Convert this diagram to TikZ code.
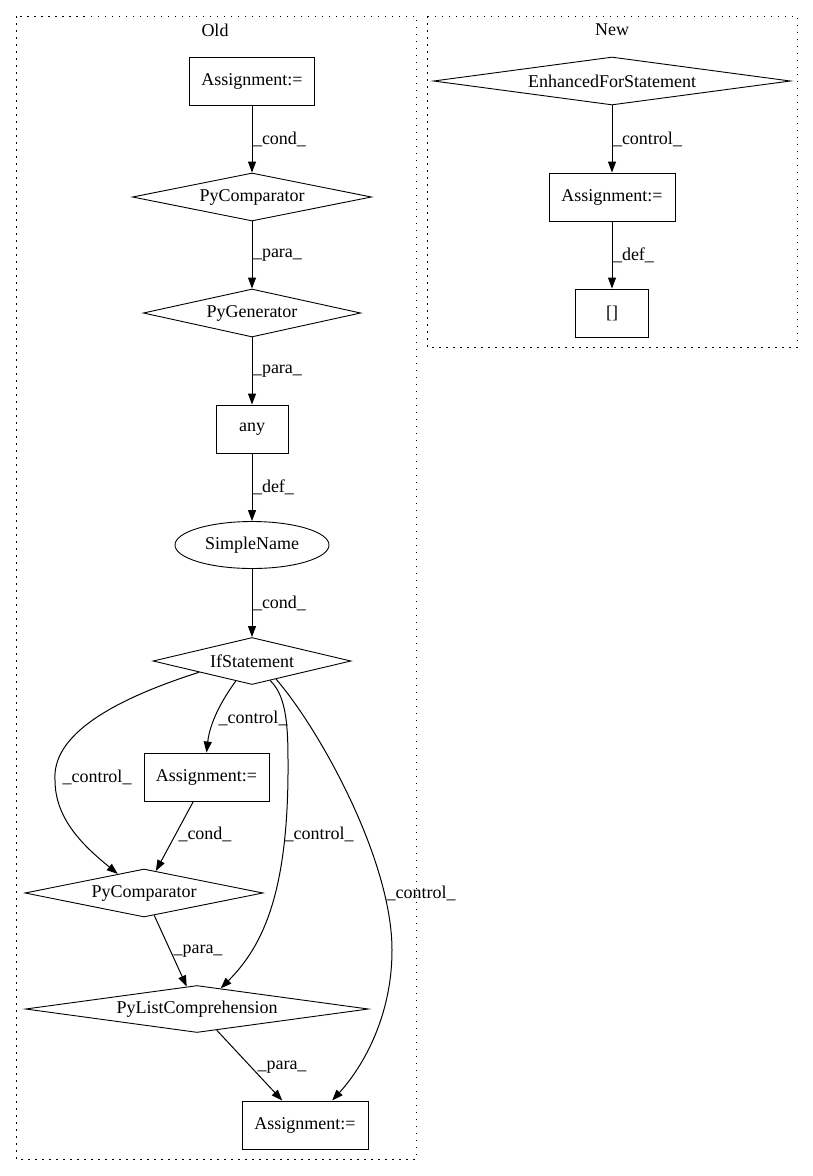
\documentclass[tikz,border=0pt]{standalone}
\usepackage{fontspec}
\setmainfont{Liberation Serif}
\usetikzlibrary{shapes.geometric,arrows.meta}
\begin{document}
\begin{tikzpicture}[x=1pt,y=-1pt,
  every node/.style={font=\fontsize{18pt}{21pt}\selectfont, inner sep=0pt},
  box/.style={draw, rectangle, line width=0.9pt},
  dia/.style={draw, diamond, aspect=8, line width=0.9pt},
  ell/.style={draw, ellipse, line width=0.9pt},
  cluster/.style={draw, line width=1pt, dash pattern=on 1.5pt off 5.5pt},
  edge/.style={draw, line width=1pt, -{Triangle[length=11pt,width=8pt]}},
  lbl/.style={anchor=west, inner sep=0pt}
]
\useasboundingbox (0,0) rectangle (813,1176);
% clusters
\draw[cluster] (16,16) rectangle (416,1159);
\draw[cluster] (427,16) rectangle (797,347);
\node (oldlbl) at (215,30) {Old};
\node (newlbl) at (612,30) {New};

% Old nodes
\node[box, minimum width=125pt, minimum height=48pt] (a1) at (252,81) {Assignment:=};
\node[dia, minimum width=239pt, minimum height=48pt] (pc1) at (252,197) {PyComparator};
\node[dia, minimum width=211pt, minimum height=48pt] (pg) at (252,313) {PyGenerator};
\node[box, minimum width=72pt, minimum height=48pt] (any) at (252,429) {any};
\node[ell, minimum width=154pt, minimum height=47pt] (sn) at (252,545) {SimpleName};
\node[dia, minimum width=198pt, minimum height=47pt] (if) at (252,661) {IfStatement};
\node[box, minimum width=125pt, minimum height=48pt] (a2) at (206.5,777) {Assignment:=};
\node[dia, minimum width=238pt, minimum height=48pt] (pc2) at (144,893) {PyComparator};
\node[dia, minimum width=343pt, minimum height=47pt] (plc) at (197,1009) {PyListComprehension};
\node[box, minimum width=126pt, minimum height=48pt] (a3) at (305,1125) {Assignment:=};

% New nodes
\node[dia, minimum width=357pt, minimum height=48pt] (efs) at (612,81) {EnhancedForStatement};
\node[box, minimum width=126pt, minimum height=48pt] (na) at (612,197) {Assignment:=};
\node[box, minimum width=73pt, minimum height=48pt] (br) at (612,313) {[]};

% Old straight edges
\draw[edge] (a1) -- (pc1) node[lbl, midway, xshift=0.5pt] {\_cond\_};
\draw[edge] (pc1) -- (pg) node[lbl, midway, xshift=0.5pt] {\_para\_};
\draw[edge] (pg) -- (any) node[lbl, midway, xshift=0.5pt] {\_para\_};
\draw[edge] (any) -- (sn) node[lbl, midway, xshift=0.5pt] {\_def\_};
\draw[edge] (sn) -- (if) node[lbl, midway, xshift=0.5pt] {\_cond\_};
\draw[edge] (a2) -- (pc2);
\node (l1) at (205,834) {\_cond\_};
\draw[edge] (pc2) -- (plc);
\node (l2) at (198,951) {\_para\_};
\draw[edge] (plc) -- (a3);
\node (l3) at (282,1067) {\_para\_};

% Old curved edges
\draw[edge] (if.231) .. controls (222,700) and (210,722) .. (a2.north);
\node (l4) at (253,718) {\_control\_};
\draw[edge] (if.192) .. controls (112,700) and (52,735) .. (55,780)
  .. controls (55,820) and (85,847) .. (pc2.144);
\node (l5) at (97,777) {\_control\_};
\draw[edge] (if.313) .. controls (285,695) and (288,720) .. (288,760)
  .. controls (289,890) and (264,945) .. (plc.41);
\node (l6) at (319,834) {\_control\_};
\draw[edge] (if.323) .. controls (320,730) and (392,860) .. (392,950)
  .. controls (392,1020) and (360,1070) .. (a3.42);
\node (l7) at (421,893) {\_control\_};

% New edges
\draw[edge] (efs) -- (na) node[lbl, midway, xshift=0.5pt] {\_control\_};
\draw[edge] (na) -- (br) node[lbl, midway, xshift=0.5pt] {\_def\_};
\end{tikzpicture}
\end{document}
